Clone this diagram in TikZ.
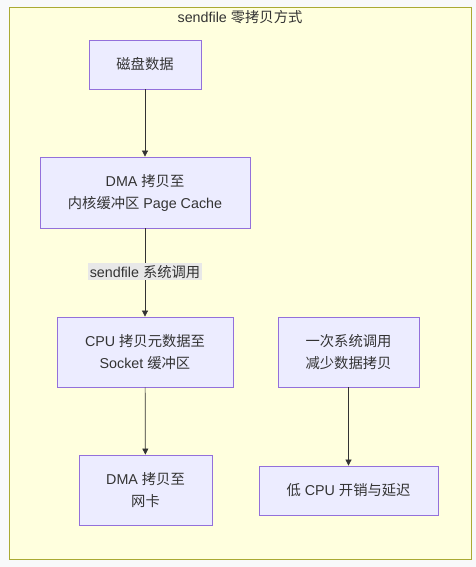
\documentclass[tikz,border=0pt]{standalone}
\usepackage{fontspec}
\setmainfont{Liberation Sans}
\newfontfamily\cjk{Noto Sans CJK SC}
\newcommand{\zh}[1]{{\cjk #1}}
\usetikzlibrary{arrows.meta}
\definecolor{pagebg}{HTML}{F8F9FA}
\definecolor{clusterfill}{HTML}{FFFFDE}
\definecolor{clusterdraw}{HTML}{AAAA33}
\definecolor{boxfill}{HTML}{ECECFF}
\definecolor{boxdraw}{HTML}{9370DB}
\definecolor{ink}{HTML}{333333}
\definecolor{labelbg}{HTML}{E8E8E8}
\begin{document}
\begin{tikzpicture}[x=1pt,y=-1pt,
  font=\fontsize{14.3}{22}\selectfont,
  box/.style={draw=boxdraw,fill=boxfill,text=ink,line width=0.8pt,align=center,inner sep=0pt},
  link/.style={draw=ink,line width=0.7pt,-{Triangle[length=6pt,width=6pt]}},
  edgelabel/.style={fill=labelbg,text=ink,inner sep=1.5pt}]
\useasboundingbox[fill=pagebg] (0,0) rectangle (476,567);
\draw[clusterdraw,fill=clusterfill,line width=0.8pt] (9,7) rectangle (471,559);
\node[text=ink] (title) at (240,17) {sendfile \zh{零拷贝方式}};
% left column
\node[box,minimum width=112pt,minimum height=49pt] (disk) at (145,64.5) {\zh{磁盘数据}};
\node[box,minimum width=210pt,minimum height=71pt] (dmacache) at (145,192.5) {DMA \zh{拷贝至}\\\zh{内核缓冲区} Page Cache};
\node[box,minimum width=176pt,minimum height=70pt] (cpucopy) at (145,352) {CPU \zh{拷贝元数据至}\\Socket \zh{缓冲区}};
\node[box,minimum width=133pt,minimum height=70pt] (dmanic) at (145.5,490) {DMA \zh{拷贝至}\\\zh{网卡}};
% right column
\node[box,minimum width=141pt,minimum height=70pt] (once) at (348.5,352) {\zh{一次系统调用}\\\zh{减少数据拷贝}};
\node[box,minimum width=179pt,minimum height=49pt] (lowcost) at (348.5,490.5) {\zh{低} CPU \zh{开销与延迟}};
% edges
\draw[link] (disk) -- (dmacache);
\draw[link] (dmacache) -- (cpucopy) node[edgelabel,pos=0.49] (calllabel) {sendfile \zh{系统调用}};
\draw[link] (cpucopy) -- (dmanic);
\draw[link] (once) -- (lowcost);
\end{tikzpicture}
\end{document}
